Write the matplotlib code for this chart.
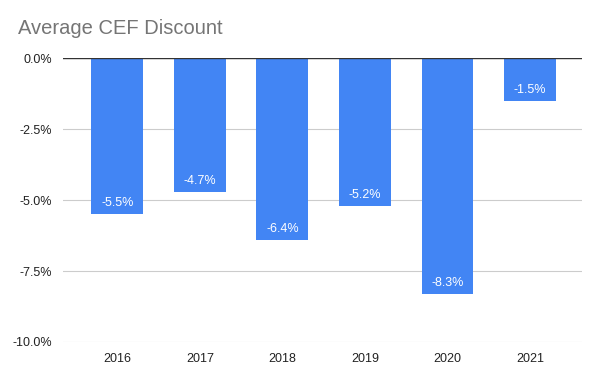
import matplotlib.pyplot as plt
from matplotlib.ticker import FuncFormatter

plt.rcParams['font.family'] = ['Liberation Sans', 'DejaVu Sans']

years = ['2016', '2017', '2018', '2019', '2020', '2021']
discount = [-5.5, -4.7, -6.4, -5.2, -8.3, -1.5]
yticks = [0, -2.5, -5.0, -7.5, -10.0]

fig = plt.figure(figsize=(6, 3.8), dpi=100)
ax = fig.add_axes([0.105, 0.1, 0.865, 0.747])

x = range(len(years))
bars = ax.bar(x, discount, width=0.63, color='#4285F4', zorder=3)

for xi, v in zip(x, discount):
    ax.text(xi, v + 0.38, f'{v:.1f}%', ha='center', va='center', color='white', fontsize=9, zorder=4)

ax.set_xlim(-0.66, 5.63)
ax.set_ylim(-10, 0)
ax.set_yticks(yticks)
ax.yaxis.set_major_formatter(FuncFormatter(lambda v, p: f'{v:.1f}%'))
ax.set_xticks(list(x))
ax.set_xticklabels(years)
ax.tick_params(length=0, labelsize=9, colors='#222222')
ax.tick_params(axis='x', pad=8)
ax.tick_params(axis='y', pad=8)
ax.grid(axis='y', color='#cccccc', linewidth=0.8, zorder=0)
ax.axhline(0, color='#333333', linewidth=1, zorder=5)
for s in ax.spines.values():
    s.set_visible(False)

fig.text(0.03, 0.925, 'Average CEF Discount', fontsize=14.5, color='#757575', ha='left', va='center')

fig.savefig('out.png')
